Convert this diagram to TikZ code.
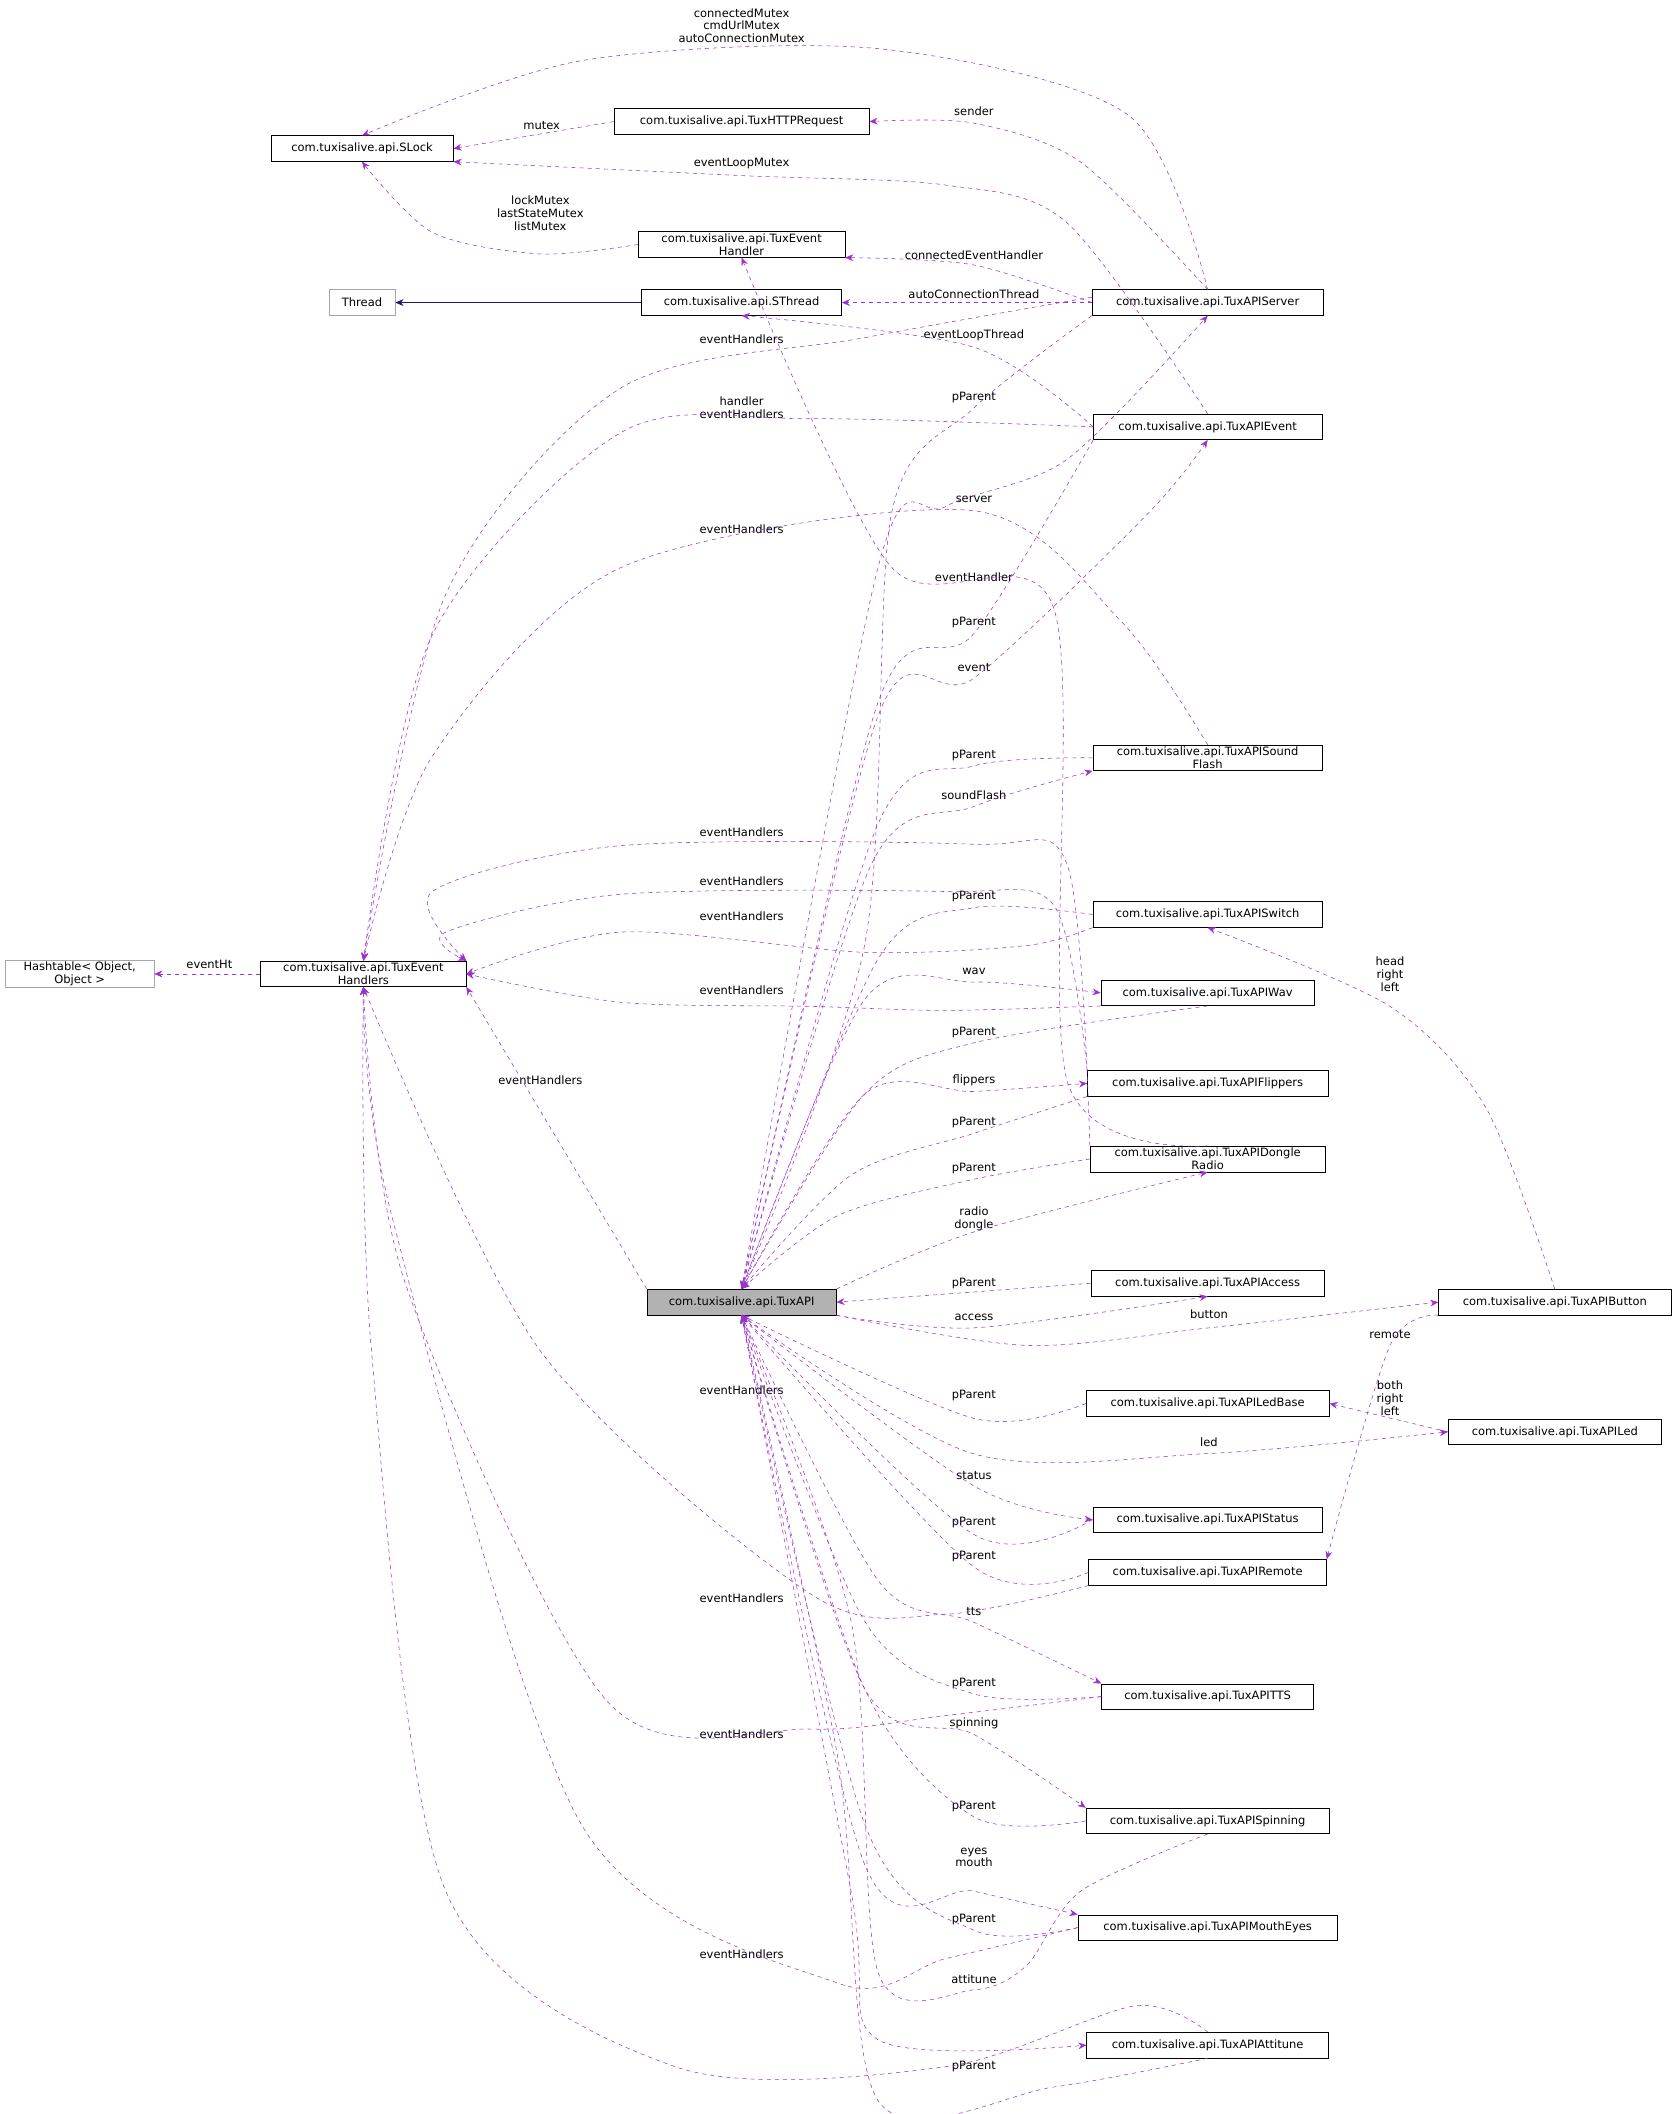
\documentclass[tikz,border=0pt]{standalone}
\usepackage{fontspec}
\setmainfont{DejaVu Sans}
\usetikzlibrary{arrows.meta}
\definecolor{pur}{RGB}{154,50,205}
\definecolor{nav}{RGB}{25,25,112}
\begin{document}
\begin{tikzpicture}[x=1pt,y=-1pt,
 font=\fontsize{8.5}{9.5}\selectfont,
 n/.style={draw,inner sep=1pt,minimum height=19pt,align=center,fill=white},
 g/.style={n,draw=gray!70},
 e/.style={dashed,pur,-{Stealth[length=6pt,width=5pt]}},
 l/.style={align=center,inner sep=0pt}]
\useasboundingbox (0,0) rectangle (1240,1565);
\node[g,minimum width=110pt] (ht) at (59,721) {Hashtable< Object,\\Object >};
\node[n,minimum width=152pt] (teh) at (269,721) {com.tuxisalive.api.TuxEvent\\Handlers};
\node[n,minimum width=135pt] (slock) at (268,110) {com.tuxisalive.api.SLock};
\node[n,minimum width=189pt] (http) at (549,90) {com.tuxisalive.api.TuxHTTPRequest};
\node[n,minimum width=153pt] (eh) at (549,181) {com.tuxisalive.api.TuxEvent\\Handler};
\node[g,minimum width=49pt] (thr) at (268,224) {Thread};
\node[n,minimum width=148pt] (sth) at (549,224) {com.tuxisalive.api.SThread};
\node[n,minimum width=171pt] (srv) at (894,224) {com.tuxisalive.api.TuxAPIServer};
\node[n,minimum width=169pt] (evt) at (894,316) {com.tuxisalive.api.TuxAPIEvent};
\node[n,minimum width=170pt] (sf) at (894,561) {com.tuxisalive.api.TuxAPISound\\Flash};
\node[n,minimum width=170pt] (sw) at (894,677) {com.tuxisalive.api.TuxAPISwitch};
\node[n,minimum width=158pt] (wav) at (894,735) {com.tuxisalive.api.TuxAPIWav};
\node[n,minimum width=178pt] (fl) at (894,802) {com.tuxisalive.api.TuxAPIFlippers};
\node[n,minimum width=174pt] (dr) at (894,858) {com.tuxisalive.api.TuxAPIDongle\\Radio};
\node[n,minimum width=140pt,fill=gray!60] (api) at (549,964) {com.tuxisalive.api.TuxAPI};
\node[n,minimum width=173pt] (acc) at (894,950) {com.tuxisalive.api.TuxAPIAccess};
\node[n,minimum width=172pt] (btn) at (1151,964) {com.tuxisalive.api.TuxAPIButton};
\node[n,minimum width=180pt] (lb) at (894,1039) {com.tuxisalive.api.TuxAPILedBase};
\node[n,minimum width=158pt] (led) at (1151,1060) {com.tuxisalive.api.TuxAPILed};
\node[n,minimum width=170pt] (st) at (894,1125) {com.tuxisalive.api.TuxAPIStatus};
\node[n,minimum width=176pt] (rem) at (894,1164) {com.tuxisalive.api.TuxAPIRemote};
\node[n,minimum width=157pt] (tts) at (894,1256) {com.tuxisalive.api.TuxAPITTS};
\node[n,minimum width=180pt] (sp) at (894,1348) {com.tuxisalive.api.TuxAPISpinning};
\node[n,minimum width=192pt] (me) at (894,1427) {com.tuxisalive.api.TuxAPIMouthEyes};
\node[n,minimum width=179pt] (att) at (894,1514) {com.tuxisalive.api.TuxAPIAttitune};
% labels
\node[l] (l1) at (549,19) {connectedMutex\\cmdUrlMutex\\autoConnectionMutex};
\node[l] (l2) at (401,93) {mutex};
\node[l] (l3) at (549,121) {eventLoopMutex};
\node[l] (l4) at (400,158) {lockMutex\\lastStateMutex\\listMutex};
\node[l] (l5) at (721,82) {sender};
\node[l] (l6) at (721,189) {connectedEventHandler};
\node[l] (l7) at (721,218) {autoConnectionThread};
\node[l] (l8) at (721,248) {eventLoopThread};
\node[l] (l9) at (549,251) {eventHandlers};
\node[l] (l10) at (549,302) {handler\\eventHandlers};
\node[l] (l11) at (721,294) {pParent};
\node[l] (l12) at (721,370) {server};
\node[l] (l13) at (549,392) {eventHandlers};
\node[l] (l14) at (721,427) {eventHandler};
\node[l] (l15) at (721,461) {pParent};
\node[l] (l16) at (721,494) {event};
\node[l] (l17) at (721,559) {pParent};
\node[l] (l18) at (721,589) {soundFlash};
\node[l] (l19) at (549,616) {eventHandlers};
\node[l] (l20) at (549,652) {eventHandlers};
\node[l] (l21) at (721,664) {pParent};
\node[l] (l22) at (549,678) {eventHandlers};
\node[l] (l23) at (721,719) {wav};
\node[l] (l24) at (549,733) {eventHandlers};
\node[l] (l25) at (721,764) {pParent};
\node[l] (l26) at (721,800) {flippers};
\node[l] (l27) at (400,800) {eventHandlers};
\node[l] (l28) at (721,831) {pParent};
\node[l] (l29) at (721,865) {pParent};
\node[l] (l30) at (721,902) {radio\\dongle};
\node[l] (l31) at (721,950) {pParent};
\node[l] (l32) at (721,975) {access};
\node[l] (l33) at (895,973) {button};
\node[l] (l34) at (1029,721) {head\\right\\left};
\node[l] (l35) at (1029,988) {remote};
\node[l] (l36) at (1029,1035) {both\\right\\left};
\node[l] (l37) at (549,1029) {eventHandlers};
\node[l] (l38) at (721,1033) {pParent};
\node[l] (l39) at (895,1068) {led};
\node[l] (l40) at (721,1092) {status};
\node[l] (l41) at (721,1127) {pParent};
\node[l] (l42) at (721,1152) {pParent};
\node[l] (l43) at (549,1183) {eventHandlers};
\node[l] (l44) at (721,1193) {tts};
\node[l] (l45) at (721,1246) {pParent};
\node[l] (l46) at (721,1276) {spinning};
\node[l] (l47) at (549,1284) {eventHandlers};
\node[l] (l48) at (721,1337) {pParent};
\node[l] (l49) at (721,1375) {eyes\\mouth};
\node[l] (l50) at (721,1421) {pParent};
\node[l] (l51) at (549,1447) {eventHandlers};
\node[l] (l52) at (721,1465) {attitune};
\node[l] (l53) at (721,1530) {pParent};
\node[l] (l54) at (155,714) {eventHt};
% edges top
\draw[e] plot[smooth] coordinates {(srv.north) (835,85) (650,36) (430,45) (slock.north)};
\draw[e] (http.west) -- (slock.east);
\draw[e] plot[smooth] coordinates {(evt.north) (790,165) (700,137) (549,130) (slock.south east)};
\draw[e] plot[smooth] coordinates {(eh.west) (400,188) (320,172) (slock.south)};
\draw[e] plot[smooth] coordinates {(srv.north) (800,120) (720,91) (http.east)};
\draw[e] plot[smooth] coordinates {(srv.west) (720,196) (eh.south east)};
\draw[e] (srv.west) -- (sth.east);
\draw[-{Stealth[length=6pt,width=5pt]},nav] (sth.west) -- (thr.east);
\draw[e] plot[smooth] coordinates {(evt.west) (721,257) (sth.south)};
\draw[e] plot[smooth] coordinates {([yshift=4pt]srv.west) (640,250) (460,287) (330,440) (teh.north)};
\draw[e] plot[smooth] coordinates {(evt.west) (600,310) (460,320) (320,470) (teh.north)};
\draw[e] plot[smooth] coordinates {(sf.north) (830,460) (720,378) (460,420) (320,560) (teh.north)};
\draw[e] plot[smooth] coordinates {(dr.north west) (790,640) (720,625) (460,626) (320,660) (teh.north east)};
\draw[e] plot[smooth] coordinates {(fl.north west) (780,670) (700,660) (460,662) (330,690) (teh.north east)};
\draw[e] plot[smooth] coordinates {(sw.south west) (760,700) (640,705) (460,690) (teh.east)};
\draw[e] plot[smooth] coordinates {(wav.south west) (700,748) (600,745) (460,742) (teh.east)};
\draw[e] (api.north west) -- (teh.south east);
\draw[e] plot[smooth] coordinates {(rem.south west) (700,1195) (600,1180) (400,1000) (teh.south)};
\draw[e] plot[smooth] coordinates {(tts.west) (700,1270) (600,1280) (450,1260) (300,950) (teh.south)};
\draw[e] plot[smooth] coordinates {(me.west) (700,1450) (620,1468) (430,1350) (290,900) (teh.south)};
\draw[e] plot[smooth] coordinates {(att.north) (840,1485) (700,1530) (500,1530) (330,1400) (275,1000) (teh.south)};
\draw[e] (teh.west) -- (ht.east);
\draw[e] plot[smooth] coordinates {(dr.north) (790,800) (780,450) (660,420) (eh.south)};
% pParent to TuxAPI (upper)
\draw[e] plot[smooth] coordinates {(srv.south west) (721,302) (660,380) (640,700) (api.north)};
\draw[e] plot[smooth] coordinates {(evt.south west) (721,469) (650,520) (api.north)};
\draw[e] plot[smooth] coordinates {(sf.west) (721,567) (650,610) (api.north)};
\draw[e] plot[smooth] coordinates {(sw.west) (721,672) (650,710) (api.north)};
\draw[e] plot[smooth] coordinates {(wav.south) (721,772) (640,810) (api.north)};
\draw[e] plot[smooth] coordinates {(fl.south west) (721,839) (630,870) (api.north)};
\draw[e] plot[smooth] coordinates {(dr.west) (721,873) (620,900) (api.north)};
\draw[e] (acc.west) -- (api.east);
% members from TuxAPI (upper)
\draw[e] plot[smooth] coordinates {(api.north) (650,420) (700,375) (790,340) (srv.south)};
\draw[e] plot[smooth] coordinates {(api.north) (650,530) (721,502) (850,380) (evt.south)};
\draw[e] plot[smooth] coordinates {(api.north) (645,640) (721,597) (sf.south west)};
\draw[e] plot[smooth] coordinates {(api.north) (640,740) (721,727) (wav.west)};
\draw[e] plot[smooth] coordinates {(api.north) (640,810) (721,808) (fl.west)};
\draw[e] plot[smooth] coordinates {(api.north east) (721,912) (dr.south)};
\draw[e] plot[smooth] coordinates {(api.south east) (721,983) (acc.south)};
\draw[e] plot[smooth] coordinates {(api.south east) (760,996) (895,983) (btn.west)};
\draw[e] plot[smooth] coordinates {(btn.north) (1100,820) (1029,745) (sw.south)};
\draw[e] plot[smooth] coordinates {(btn.south west) (1029,996) (rem.north east)};
\draw[e] (led.west) -- (lb.east);
\draw[e] plot[smooth] coordinates {(lb.west) (721,1050) (api.south)};
\draw[e] plot[smooth] coordinates {(api.south) (720,1076) (895,1076) (led.west)};
\draw[e] plot[smooth] coordinates {(api.south) (721,1100) (st.west)};
\draw[e] plot[smooth] coordinates {(st.west) (721,1136) (api.south)};
\draw[e] plot[smooth] coordinates {(rem.west) (721,1160) (api.south)};
\draw[e] plot[smooth] coordinates {(api.south) (650,1170) (721,1201) (tts.north west)};
\draw[e] plot[smooth] coordinates {(tts.west) (721,1254) (640,1200) (api.south)};
\draw[e] plot[smooth] coordinates {(api.south) (640,1250) (721,1284) (sp.north west)};
\draw[e] plot[smooth] coordinates {(sp.west) (721,1345) (640,1250) (api.south)};
\draw[e] plot[smooth] coordinates {(api.south) (640,1380) (721,1400) (me.north west)};
\draw[e] plot[smooth] coordinates {(me.west) (721,1429) (640,1350) (api.south)};
\draw[e] plot[smooth] coordinates {(sp.south) (800,1400) (760,1455) (721,1473) (650,1460) (630,1200) (api.south)};
\draw[e] plot[smooth] coordinates {(api.south) (630,1400) (650,1510) (att.west)};
\draw[e] plot[smooth] coordinates {(att.south) (780,1545) (650,1555) (620,1300) (api.south)};
\end{tikzpicture}
\end{document}
